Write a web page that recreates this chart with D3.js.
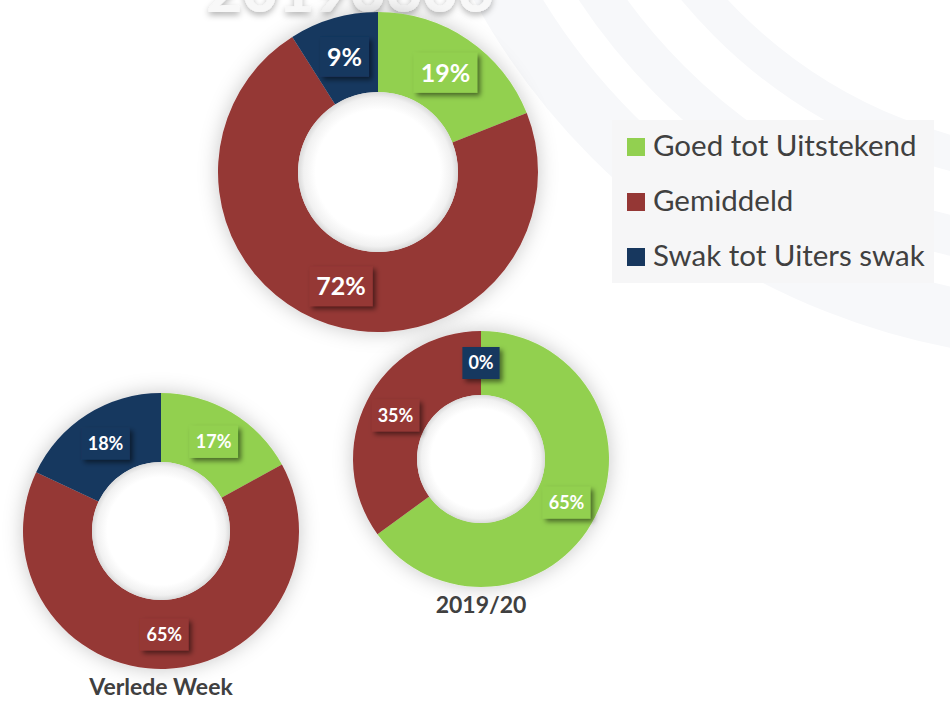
<!DOCTYPE html>
<html lang="en">
<head>
<meta charset="UTF-8">
<title>Donuts</title>
<script src="https://d3js.org/d3.v7.min.js"></script>
<style>
  body { margin: 0; background: #fff; font-family: Lato, "Open Sans", sans-serif; }
  svg { display: block; }
</style>
</head>
<body>
<div id="chart"></div>
<script>
// categories + colours
var categories = ["Goed tot Uitstekend", "Gemiddeld", "Swak tot Uiters swak"];
var colors = ["#92D050", "#953735", "#17375E"];

// percentages per donut (clockwise from 12 o'clock)
var hierdieWeek = [19, 72, 9];
var verledeWeek = [17, 65, 18];
var jaar1920 = [65, 35, 0];

var donutTitles = ["", "Verlede Week", "2019/20"];
var bannerText = "20190606";

var w = 950, h = 701;

var svg = d3.select('#chart').append('svg')
    .attr('width', w)
    .attr('height', h);

var defs = svg.append('defs');

// soft glow round the donuts
var glow = defs.append('filter').attr('id', 'glow')
    .attr('x', '-20%').attr('y', '-20%').attr('width', '140%').attr('height', '140%');
glow.append('feDropShadow')
    .attr('dx', 0).attr('dy', 0).attr('stdDeviation', 10)
    .attr('flood-color', '#000').attr('flood-opacity', 0.22);

// drop shadow for the label boxes
var boxShadow = defs.append('filter').attr('id', 'boxShadow')
    .attr('x', '-30%').attr('y', '-30%').attr('width', '170%').attr('height', '170%');
boxShadow.append('feDropShadow')
    .attr('dx', 3).attr('dy', 3).attr('stdDeviation', 2.5)
    .attr('flood-color', '#000').attr('flood-opacity', 0.5);

var bannerShadow = defs.append('filter').attr('id', 'bannerShadow');
bannerShadow.append('feDropShadow')
    .attr('dx', 0).attr('dy', 3).attr('stdDeviation', 3)
    .attr('flood-color', '#000').attr('flood-opacity', 0.3);

// hole: white with a grey rim like an inner shadow
var hole = defs.append('radialGradient').attr('id', 'hole');
hole.append('stop').attr('offset', '0.78').attr('stop-color', '#ffffff');
hole.append('stop').attr('offset', '0.93').attr('stop-color', '#f1f1f1');
hole.append('stop').attr('offset', '1').attr('stop-color', '#dadada');

// faint background swooshes, top right
var bg = svg.append('g');
[[660, 60], [580, 40], [500, 35]].forEach(function(a) {
    bg.append('circle')
      .attr('cx', 1080).attr('cy', -330)
      .attr('r', a[0])
      .attr('fill', 'none')
      .attr('stroke', '#f7f8fa')
      .attr('stroke-width', a[1]);
});

// cut-off banner at the top
svg.append('text')
    .attr('x', 350).attr('y', 12)
    .attr('text-anchor', 'middle')
    .attr('font-size', '62px')
    .attr('font-weight', 'bold')
    .attr('fill', '#f8f8f8')
    .attr('filter', 'url(#bannerShadow)')
    .text(bannerText);

var donuts = [
    {data: hierdieWeek, title: donutTitles[0], cx: 378, cy: 172, r: 160, fs: 25, bw: 14, bh: 40},
    {data: verledeWeek, title: donutTitles[1], cx: 161, cy: 531, r: 138, fs: 18, bw: 13, bh: 32},
    {data: jaar1920, title: donutTitles[2], cx: 481, cy: 459, r: 128, fs: 18, bw: 12, bh: 32}
];

var pie = d3.pie().sort(null).value(function(d) { return d; });

donuts.forEach(function(dn) {
    var g = svg.append('g').attr('transform', 'translate(' + dn.cx + ',' + dn.cy + ')');
    var arc = d3.arc().innerRadius(dn.r * 0.5).outerRadius(dn.r);
    var arcs = pie(dn.data);

    var ring = g.append('g').attr('filter', 'url(#glow)');
    ring.selectAll('path')
        .data(arcs)
        .enter()
        .append('path')
        .attr('d', arc)
        .attr('fill', function(d, i) { return colors[i]; });

    g.append('circle')
        .attr('r', dn.r * 0.5)
        .attr('fill', 'url(#hole)');

    // value labels in little boxes
    arcs.forEach(function(d, i) {
        var c = arc.centroid(d);
        var lg = g.append('g').attr('transform', 'translate(' + c[0] + ',' + c[1] + ')');
        var box = lg.append('rect')
            .attr('fill', colors[i])
            .attr('filter', 'url(#boxShadow)');
        var t = lg.append('text')
            .attr('text-anchor', 'middle')
            .attr('dy', '0.36em')
            .attr('font-size', dn.fs + 'px')
            .attr('font-weight', 'bold')
            .attr('fill', '#fff')
            .text(d.data + '%');
        var tw = t.node().getComputedTextLength() + dn.bw;
        box.attr('x', -tw / 2).attr('y', -dn.bh / 2)
           .attr('width', tw).attr('height', dn.bh);
    });

    if (dn.title) {
        g.append('text')
            .attr('x', 0)
            .attr('y', dn.r + 26)
            .attr('text-anchor', 'middle')
            .attr('font-size', '23px')
            .attr('font-weight', 'bold')
            .attr('fill', '#404040')
            .text(dn.title);
    }
});

// legend
var legend = svg.append('g').attr('id', 'legend');
legend.append('rect')
    .attr('x', 612).attr('y', 120)
    .attr('width', 322).attr('height', 163)
    .attr('fill', '#f6f6f7');

categories.forEach(function(cat, i) {
    legend.append('rect')
        .attr('x', 627).attr('y', 138 + i * 55)
        .attr('width', 18).attr('height', 18)
        .attr('fill', colors[i]);
    legend.append('text')
        .attr('x', 653).attr('y', 156 + i * 55)
        .attr('font-size', '29.5px')
        .attr('fill', '#404040')
        .text(cat);
});
</script>
</body>
</html>
